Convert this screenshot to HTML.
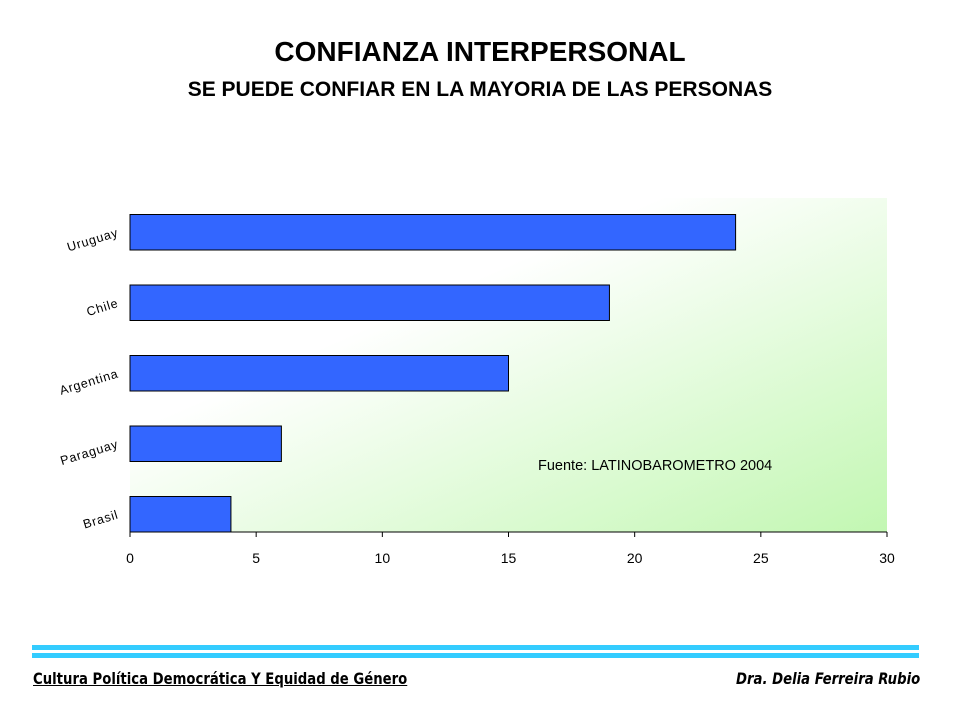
<!DOCTYPE html>
<html><head><meta charset="utf-8"><style>
body{margin:0;width:960px;height:720px;background:#fff;overflow:hidden;font-family:"Liberation Sans",sans-serif;position:relative}
.t1{position:absolute;top:36px;left:0;width:960px;text-align:center;font-size:28px;font-weight:bold;color:#000}
.t2{position:absolute;top:78px;left:0;width:960px;text-align:center;font-size:21px;font-weight:bold;color:#000}
.line{position:absolute;left:32px;width:887px;height:5px;background:#33ccff}
.f1{position:absolute;top:669px;left:33px;font-size:16px;font-weight:bold;text-decoration:underline;font-family:"DejaVu Sans Condensed","Liberation Sans Narrow","Liberation Sans",sans-serif;transform:scaleX(0.92);transform-origin:left}
.f2{position:absolute;top:669px;right:40px;font-size:16px;font-weight:bold;font-style:italic;font-family:"DejaVu Sans Condensed","Liberation Sans Narrow","Liberation Sans",sans-serif;transform:scaleX(0.92);transform-origin:right}
</style></head><body>
<div class="t1">CONFIANZA INTERPERSONAL</div>
<div class="t2">SE PUEDE CONFIAR EN LA MAYORIA DE LAS PERSONAS</div>
<svg id="chart" width="960" height="720" style="position:absolute;left:0;top:0">
<defs><linearGradient id="bg" x1="0" y1="0" x2="1" y2="1">
<stop offset="0" stop-color="#ffffff"/><stop offset="0.35" stop-color="#ffffff"/><stop offset="1" stop-color="#c2f7b2"/></linearGradient></defs>
<rect x="130" y="198" width="757" height="334" fill="url(#bg)"/>
<g id="bars"></g><g id="ticks"></g>
<text x="538" y="470" font-size="14.5" font-family="Liberation Sans, sans-serif">Fuente: LATINOBAROMETRO 2004</text>
</svg>
<div class="line" style="top:645px"></div>
<div class="line" style="top:653px"></div>
<div class="f1">Cultura Política Democrática Y Equidad de Género</div>
<div class="f2">Dra. Delia Ferreira Rubio</div>
<script>
const categories=["Uruguay","Chile","Argentina","Paraguay","Brasil"];
const values=[24,19,15,6,4];
const tickLabels=[0,5,10,15,20,25,30];
const ns="http://www.w3.org/2000/svg";
const x0=130,x1=887,xMax=30,axisY=532,band=70.5;
function xs(v){return x0+(x1-x0)*v/xMax;}
function bandTop(i){return axisY-(categories.length-i)*band;}
const gb=document.getElementById('bars'),gt=document.getElementById('ticks');
function mk(t,a,p){const e=document.createElementNS(ns,t);for(const k in a)e.setAttribute(k,a[k]);p.appendChild(e);return e;}
categories.forEach((c,i)=>{
 const y=bandTop(i)+band-35.5;
 const r=mk('rect',{x:xs(0),y:y,width:xs(values[i])-xs(0),height:35.5,fill:'#3366ff',stroke:'#000','stroke-width':1},gb);
 
 
 const cy=y+17.75;
 const t=mk('text',{x:118,y:cy+4,'text-anchor':'end','font-size':12.5,'letter-spacing':'0.8',transform:`rotate(-17 118 ${cy})`},gb);
 t.textContent=c;
 
 
});
const ax=mk('line',{x1:x0,y1:axisY,x2:x1,y2:axisY,stroke:'#000','stroke-width':1},gt);


tickLabels.forEach(v=>{
 const tk=mk('line',{x1:xs(v),y1:axisY,x2:xs(v),y2:axisY+5,stroke:'#000'},gt);
 
 
 const t=mk('text',{x:xs(v),y:axisY+31,'text-anchor':'middle','font-size':14},gt);
 t.textContent=v;
 
 
});
</script>
</body></html>
